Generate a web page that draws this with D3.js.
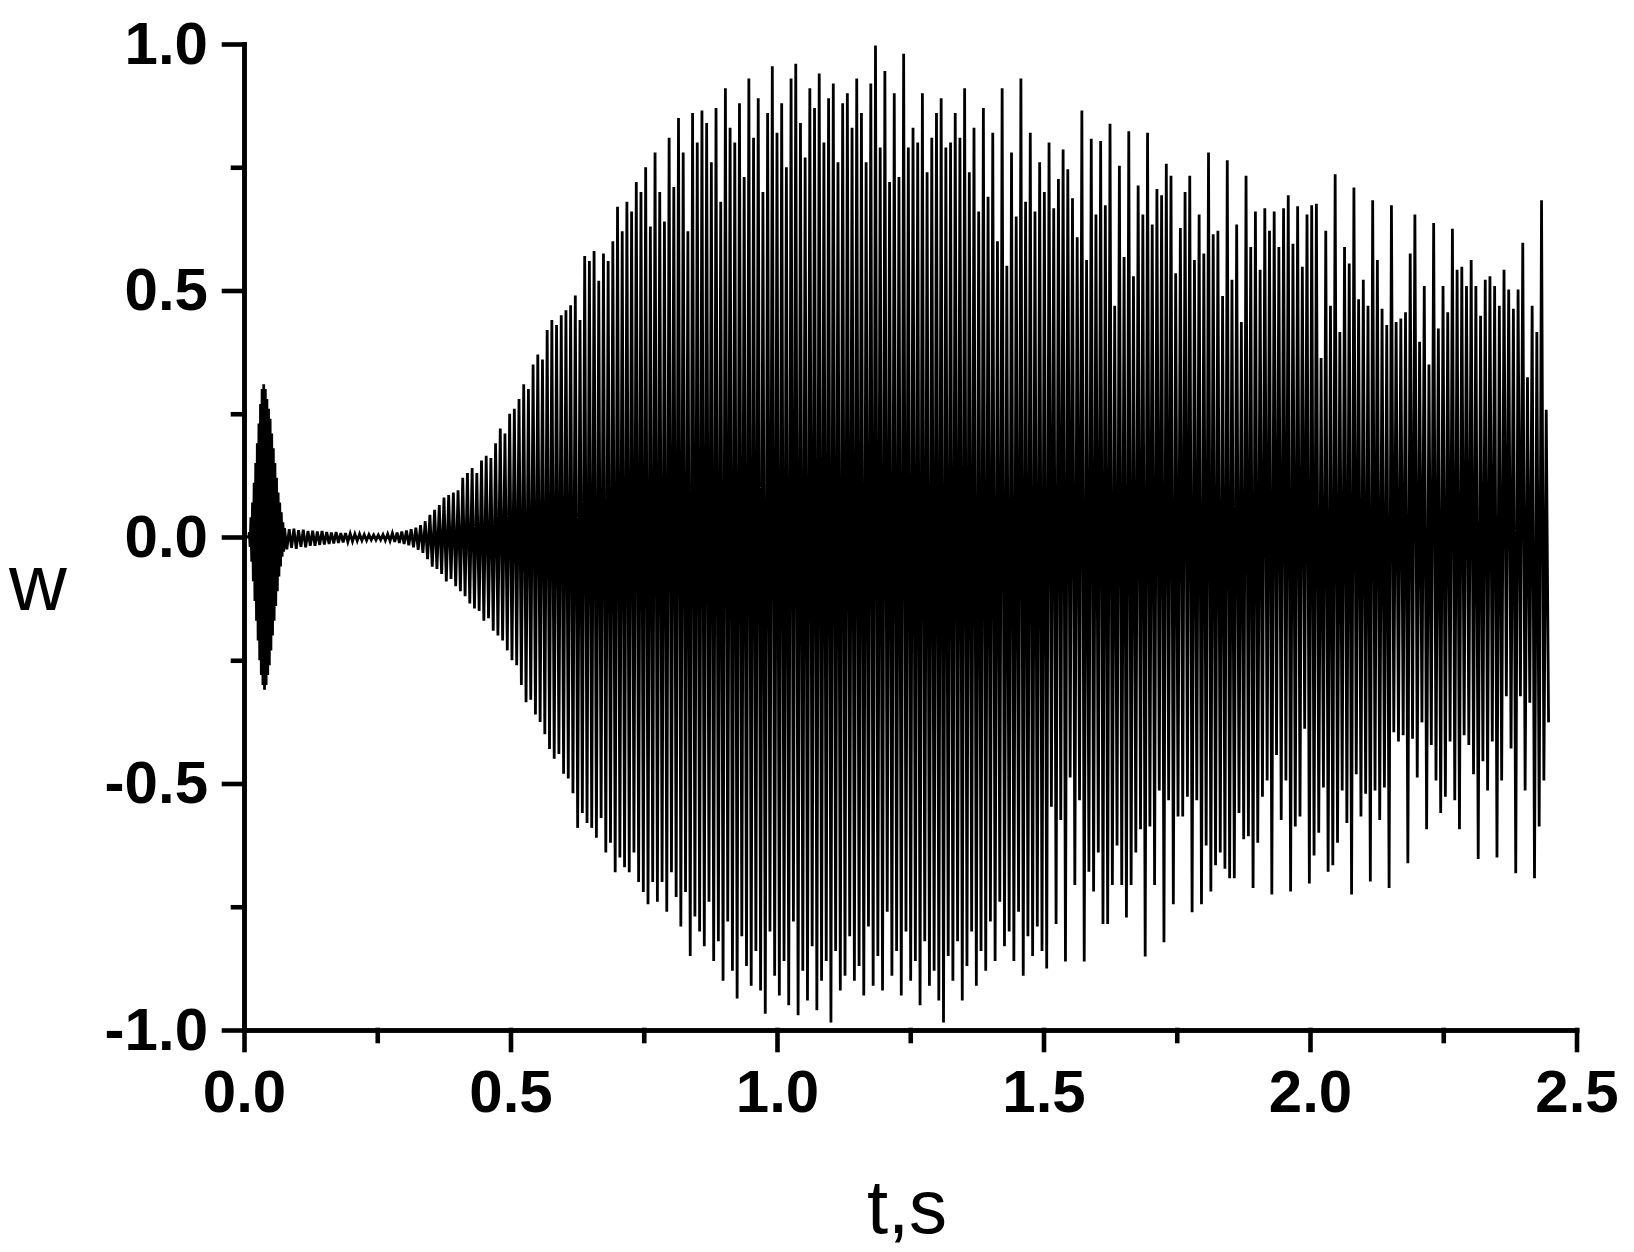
<!DOCTYPE html>
<html>
<head>
<meta charset="utf-8">
<script src="https://cdn.jsdelivr.net/npm/d3@7"></script>
<style>
  body { margin: 0; background: #fff; }
  svg { display: block; }
</style>
</head>
<body>
<div id="chart"></div>
<script>
// flat start before the first burst (t in s, w)
const leadT = [0, 0.009];
const leadW = [0, 0];

// first burst, one sample every burstStep seconds from burstStart
const burstStart = 0.010;
const burstStep = 0.0015;
const burstW = [
  0.01, -0.02, 0.04, -0.05, 0.07, -0.09, 0.11, -0.13, 0.15, -0.17,
  0.19, -0.21, 0.23, -0.25, 0.27, -0.28, 0.30, -0.30, 0.31, -0.31,
  0.30, -0.30, 0.28, -0.28, 0.26, -0.26, 0.24, -0.23, 0.21, -0.20,
  0.18, -0.17, 0.15, -0.14, 0.12, -0.11, 0.09, -0.08, 0.07, -0.06,
  0.05, -0.04, 0.03, -0.03
];

// main response: peak then trough for each cycle, half a cycle apart
const mainStart = 0.076;
const halfCycle = 0.0044;
const wPeaks = [
  0.018, 0.016, 0.017, 0.014, 0.015, 0.012, 0.013, 0.011, 0.012, 0.010,
  0.009, 0.010, 0.008, 0.008, 0.007, 0.006, 0.006, 0.005, 0.005, 0.004,
  0.004, 0.005, 0.006, 0.008, 0.009, 0.011, 0.013, 0.016, 0.019, 0.024,
  0.032, 0.045, 0.055, 0.065, 0.080, 0.085, 0.090, 0.095, 0.120, 0.130,
  0.14, 0.13, 0.155, 0.165, 0.16, 0.19, 0.22, 0.21, 0.25, 0.26,
  0.28, 0.31, 0.30, 0.35, 0.37, 0.36, 0.42, 0.44, 0.43, 0.45,
  0.46, 0.47, 0.49, 0.44, 0.57, 0.56, 0.58, 0.52, 0.575, 0.56,
  0.60, 0.67, 0.62, 0.68, 0.66, 0.72, 0.70, 0.75, 0.63, 0.78,
  0.70, 0.64, 0.81, 0.71, 0.85, 0.78, 0.62, 0.86, 0.80, 0.865,
  0.84, 0.76, 0.87, 0.68, 0.91, 0.83, 0.80, 0.88, 0.73, 0.93,
  0.81, 0.89, 0.70, 0.86, 0.955, 0.82, 0.88, 0.75, 0.93, 0.96,
  0.84, 0.77, 0.91, 0.87, 0.94, 0.80, 0.89, 0.92, 0.76, 0.88,
  0.90, 0.83, 0.93, 0.86, 0.76, 0.92, 0.997, 0.79, 0.945, 0.72,
  0.90, 0.73, 0.98, 0.79, 0.83, 0.80, 0.90, 0.74, 0.81, 0.86,
  0.89, 0.79, 0.80, 0.86, 0.81, 0.91, 0.74, 0.83, 0.66, 0.87,
  0.69, 0.82, 0.60, 0.91, 0.55, 0.78, 0.65, 0.93, 0.68, 0.82,
  0.66, 0.76, 0.70, 0.80, 0.667, 0.726, 0.786, 0.746, 0.687, 0.608,
  0.865, 0.562, 0.808, 0.654, 0.803, 0.673, 0.838, 0.469, 0.753, 0.568,
  0.823, 0.529, 0.713, 0.654, 0.82, 0.634, 0.706, 0.693, 0.757, 0.733,
  0.535, 0.627, 0.70, 0.733, 0.562, 0.654, 0.575, 0.78, 0.614, 0.621,
  0.489, 0.764, 0.522, 0.634, 0.436, 0.733, 0.588, 0.66, 0.542, 0.667,
  0.621, 0.66, 0.588, 0.667, 0.693, 0.595, 0.671, 0.548, 0.654, 0.673,
  0.676, 0.363, 0.621, 0.469, 0.736, 0.416, 0.588, 0.555, 0.709, 0.482,
  0.522, 0.469, 0.683, 0.562, 0.463, 0.430, 0.673, 0.436, 0.443, 0.456,
  0.575, 0.654, 0.396, 0.509, 0.350, 0.637, 0.423, 0.509, 0.456, 0.625,
  0.542, 0.548, 0.509, 0.562, 0.509, 0.449, 0.522, 0.529, 0.509, 0.469,
  0.542, 0.502, 0.463, 0.502, 0.597, 0.324, 0.469, 0.416, 0.683, 0.258
];
const wTroughs = [
  -0.025, -0.022, -0.024, -0.020, -0.021, -0.018, -0.018, -0.016, -0.015, -0.014,
  -0.013, -0.012, -0.011, -0.010, -0.009, -0.008, -0.007, -0.007, -0.006, -0.006,
  -0.006, -0.007, -0.008, -0.010, -0.012, -0.014, -0.017, -0.021, -0.026, -0.032,
  -0.045, -0.06, -0.065, -0.075, -0.09, -0.085, -0.10, -0.11, -0.12, -0.135,
  -0.145, -0.15, -0.17, -0.165, -0.19, -0.20, -0.21, -0.23, -0.25, -0.26,
  -0.30, -0.335, -0.33, -0.36, -0.375, -0.40, -0.43, -0.45, -0.44, -0.48,
  -0.49, -0.52, -0.59, -0.56, -0.58, -0.59, -0.61, -0.57, -0.64, -0.62,
  -0.68, -0.65, -0.67, -0.68, -0.64, -0.70, -0.72, -0.745, -0.70, -0.74,
  -0.70, -0.76, -0.68, -0.73, -0.79, -0.72, -0.85, -0.77, -0.80, -0.83,
  -0.74, -0.86, -0.82, -0.90, -0.78, -0.88, -0.936, -0.81, -0.87, -0.91,
  -0.84, -0.92, -0.967, -0.80, -0.89, -0.93, -0.86, -0.95, -0.78, -0.97,
  -0.88, -0.94, -0.83, -0.96, -0.90, -0.86, -0.985, -0.84, -0.92, -0.89,
  -0.81, -0.90, -0.87, -0.93, -0.79, -0.91, -0.85, -0.92, -0.76, -0.89,
  -0.84, -0.93, -0.80, -0.90, -0.86, -0.95, -0.82, -0.91, -0.88, -0.94,
  -0.985, -0.85, -0.90, -0.82, -0.94, -0.87, -0.80, -0.91, -0.84, -0.88,
  -0.78, -0.86, -0.74, -0.83, -0.80, -0.86, -0.76, -0.89, -0.81, -0.85,
  -0.79, -0.84, -0.875,
  -0.547, -0.785, -0.574, -0.861, -0.488, -0.706, -0.534, -0.861, -0.679, -0.719,
  -0.640, -0.785, -0.785, -0.706, -0.626, -0.706, -0.772, -0.706, -0.640, -0.593,
  -0.851, -0.587, -0.706, -0.514, -0.822, -0.534, -0.745, -0.567, -0.567, -0.527,
  -0.761, -0.534, -0.745, -0.626, -0.719, -0.666, -0.640, -0.673, -0.692, -0.692,
  -0.560, -0.613, -0.607, -0.712, -0.620, -0.527, -0.494, -0.725, -0.442, -0.574,
  -0.494, -0.719, -0.587, -0.567, -0.389, -0.703, -0.646, -0.600, -0.508, -0.679,
  -0.666, -0.620, -0.514, -0.580, -0.725, -0.481, -0.567, -0.521, -0.699, -0.514,
  -0.574, -0.508, -0.712, -0.396, -0.415, -0.402, -0.662, -0.409, -0.488, -0.376,
  -0.593, -0.422, -0.494, -0.560, -0.527, -0.415, -0.534, -0.593, -0.402, -0.422,
  -0.481, -0.653, -0.455, -0.514, -0.415, -0.650, -0.494, -0.323, -0.429, -0.682,
  -0.323, -0.514, -0.336, -0.692, -0.587, -0.494, -0.376
];

const xTicks = [0, 0.5, 1.0, 1.5, 2.0, 2.5];
const xMinor = [0.25, 0.75, 1.25, 1.75, 2.25];
const yTicks = [-1.0, -0.5, 0, 0.5, 1.0];
const yMinor = [-0.75, -0.25, 0.25, 0.75];

const chart = { width: 1634, height: 1252, left: 244, right: 1576.5, top: 44, bottom: 1030 };

let points = [];
leadT.forEach((t, i) => points.push([t, leadW[i]]));
burstW.forEach((w, i) => points.push([burstStart + i * burstStep, w]));
wPeaks.forEach((p, i) => {
  points.push([mainStart + 2 * i * halfCycle, p]);
  points.push([mainStart + (2 * i + 1) * halfCycle, wTroughs[i]]);
});

let svg = d3.select("#chart")
  .append("svg")
  .attr("width", chart.width)
  .attr("height", chart.height);

let x = d3.scaleLinear().domain([0, 2.5]).range([chart.left, chart.right]);
let y = d3.scaleLinear().domain([-1, 1]).range([chart.bottom, chart.top]);

/* signal */
svg.append("path")
  .datum(points)
  .attr("d", d3.line().x((d) => x(d[0])).y((d) => y(d[1])))
  .style("fill", "none")
  .style("stroke", "#000")
  .style("stroke-width", 2.8);

/* axes */
let fmt = (d) => d.toFixed(1);

svg.append("g")
  .attr("class", "axis")
  .attr("transform", `translate(0, ${chart.bottom})`)
  .call(d3.axisBottom(x).tickValues(xMinor).tickSize(11).tickSizeOuter(0).tickFormat(""));
svg.append("g")
  .attr("class", "axis")
  .attr("transform", `translate(0, ${chart.bottom})`)
  .call(d3.axisBottom(x).tickValues(xTicks).tickSize(20).tickSizeOuter(0).tickPadding(19).tickFormat(fmt));

svg.append("g")
  .attr("class", "axis")
  .attr("transform", `translate(${chart.left}, 0)`)
  .call(d3.axisLeft(y).tickValues(yMinor).tickSize(11).tickSizeOuter(0).tickFormat(""));
svg.append("g")
  .attr("class", "axis")
  .attr("transform", `translate(${chart.left}, 0)`)
  .call(d3.axisLeft(y).tickValues(yTicks).tickSize(20).tickSizeOuter(0).tickPadding(16).tickFormat(fmt));

svg.selectAll(".axis path, .axis line")
  .style("stroke", "#000")
  .style("stroke-width", 4.6)
  .style("stroke-linecap", "square");
svg.selectAll(".axis text")
  .style("fill", "#000")
  .style("font-family", "'Liberation Sans', Arial, sans-serif")
  .style("font-weight", "bold")
  .style("font-size", "60px");

/* axis titles */
svg.append("text")
  .attr("x", 9)
  .attr("y", 610)
  .text("w")
  .style("font-family", "'Liberation Sans', Arial, sans-serif")
  .style("font-size", "80px");
svg.append("text")
  .attr("x", 907)
  .attr("y", 1233)
  .attr("text-anchor", "middle")
  .text("t,s")
  .style("font-family", "'Liberation Sans', Arial, sans-serif")
  .style("font-size", "76px");
</script>
</body>
</html>
